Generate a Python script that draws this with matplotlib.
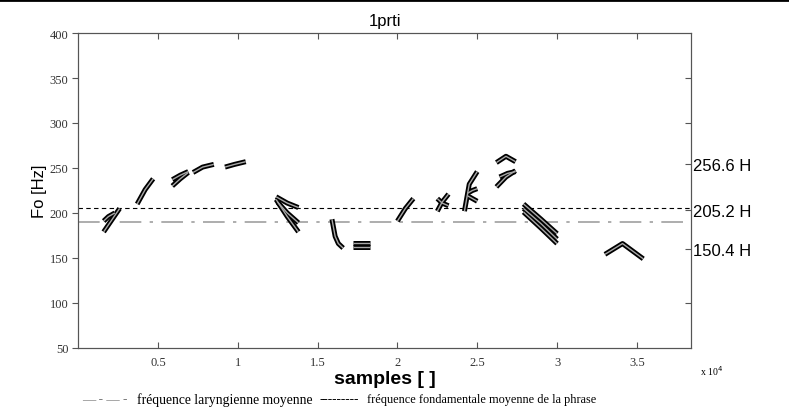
import matplotlib
matplotlib.use("Agg")
import matplotlib.pyplot as plt
from matplotlib.lines import Line2D

# F0 strands (samples in units of 1e4, Hz)
strand_x = [
    [0.16, 0.21, 0.26],
    [0.16, 0.19, 0.23],
    [0.37, 0.42, 0.47],
    [0.59, 0.64, 0.69],
    [0.59, 0.64, 0.69],
    [0.72, 0.78, 0.85],
    [0.92, 0.98, 1.05],
    [1.24, 1.31, 1.38],
    [1.24, 1.31, 1.38],
    [1.25, 1.31, 1.38],
    [1.59, 1.61, 1.63, 1.66],
    [1.72, 1.78, 1.83],
    [1.72, 1.78, 1.83],
    [2.00, 2.05, 2.10],
    [2.25, 2.28, 2.32],
    [2.25, 2.28, 2.32],
    [2.42, 2.45, 2.50],
    [2.44, 2.47, 2.50],
    [2.44, 2.47, 2.50],
    [2.62, 2.68, 2.74],
    [2.64, 2.69, 2.74],
    [2.62, 2.68, 2.74],
    [2.79, 2.90, 3.00],
    [2.79, 2.90, 3.00],
    [2.79, 2.90, 3.00],
    [3.30, 3.41, 3.54],
]
strand_y = [
    [179, 192, 205],
    [191, 196, 200],
    [210, 226, 238],
    [230, 238, 245],
    [237, 242, 246],
    [245, 251, 254],
    [251, 254, 257],
    [218, 211, 206],
    [215, 196, 179],
    [212, 200, 189],
    [193, 174, 166, 161],
    [167, 167, 167],
    [162, 162, 162],
    [191, 205, 216],
    [202, 212, 221],
    [216, 211, 208],
    [202, 232, 246],
    [222, 225, 227],
    [219, 216, 213],
    [229, 240, 247],
    [240, 244, 246],
    [256, 263, 257],
    [210, 193, 177],
    [205, 188, 171],
    [201, 183, 166],
    [154, 166, 149],
]

f0_phrase = 205.2
f0_laryng = 190.0
right_ticks = [350, 300, 254, 203, 160, 100]
right_labels = ["", "", "256.6 H", "205.2 H", "150.4 H", ""]

fig = plt.figure(figsize=(7.89, 4.10), dpi=100)
ax = fig.add_axes([0.099, 0.149, 0.777, 0.768])

for xs, ys in zip(strand_x, strand_y):
    ax.plot(xs, ys, color="black", linewidth=3.6, solid_capstyle="butt", zorder=3)
    ax.plot(xs, ys, color="#a8a8a8", linewidth=1.0, solid_capstyle="butt", zorder=4)

ax.axhline(f0_phrase, color="black", linewidth=0.8, linestyle=(0, (4, 3)), zorder=2)
ax.axhline(f0_laryng, color="#a0a0a0", linewidth=1.2,
           linestyle=(0, (13, 5, 2, 5)), zorder=2)

ax.set_xlim(0, 3.84)
ax.set_ylim(50, 400)
ax.set_xticks([0.5, 1, 1.5, 2, 2.5, 3, 3.5])
ax.set_xticklabels(["0.5", "1", "1.5", "2", "2.5", "3", "3.5"])
ax.set_yticks([50, 100, 150, 200, 250, 300, 350, 400])

for s in ax.spines.values():
    s.set_color("#555555")
ax.tick_params(axis="both", labelsize=9, colors="#555555", labelcolor="#333333",
               length=4)
ax.tick_params(axis="x", direction="in", top=True, pad=6)
ax.tick_params(axis="y", direction="out", pad=3)
for lab in ax.get_xticklabels() + ax.get_yticklabels():
    lab.set_family("Liberation Serif")

ax2 = ax.twinx()
ax2.set_ylim(50, 400)
ax2.set_yticks(right_ticks)
ax2.set_yticklabels(right_labels, family="Liberation Sans", fontsize=12)
ax2.tick_params(axis="y", direction="in", length=4, pad=1, colors="#555555",
                labelcolor="black")
for s in ax2.spines.values():
    s.set_color("#555555")

ax.set_title("1prti", family="Liberation Sans", fontsize=12, pad=6)
ax.set_ylabel("Fo [Hz]", family="Liberation Sans", fontsize=12, labelpad=2)
ax.set_xlabel("samples [ ]", family="Liberation Sans", fontsize=14,
              fontweight="bold", labelpad=1)

fig.text(0.887, 0.082, "x 10$^4$", family="Liberation Serif", fontsize=7)

legend_y = 0.024
fig.text(82 / 789, legend_y, "— - — -", family="Liberation Serif", fontsize=9.5,
         color="#777777", va="center")
fig.text(137 / 789, legend_y, "fréquence laryngienne moyenne",
         family="Liberation Serif", fontsize=9.8, va="center")
fig.text(319 / 789, legend_y, "---------", family="Liberation Serif",
         fontsize=9.5, va="center")
fig.text(367 / 789, legend_y, "fréquence fondamentale moyenne de la phrase",
         family="Liberation Serif", fontsize=8.8, va="center")

fig.add_artist(Line2D([0, 1], [0.998, 0.998], color="black", linewidth=2,
                      transform=fig.transFigure))

fig.savefig("out.png", dpi=100, facecolor="white")
